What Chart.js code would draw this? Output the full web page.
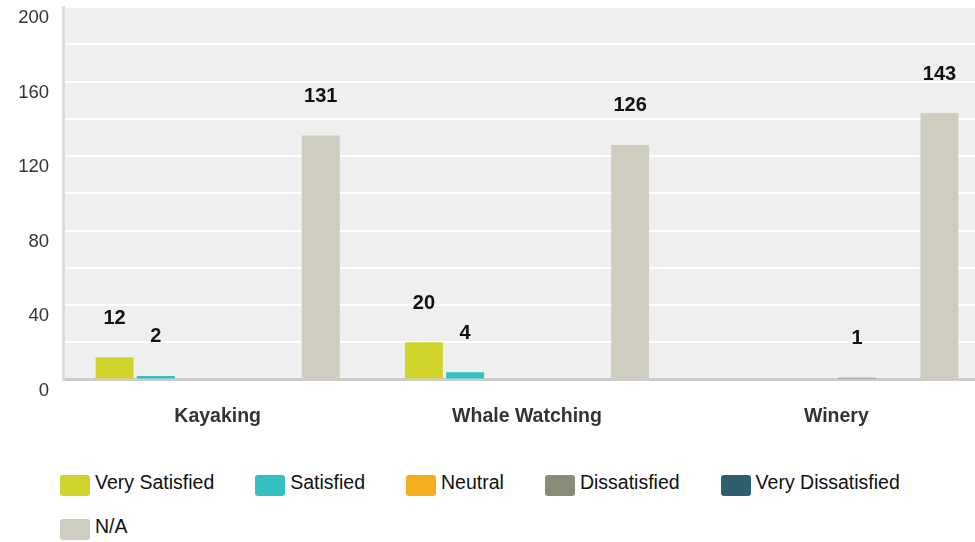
<!DOCTYPE html>
<html>
<head>
<meta charset="utf-8">
<script src="https://cdn.jsdelivr.net/npm/chart.js@4"></script>
<style>
  html, body { margin: 0; padding: 0; background: #fff; overflow: hidden; }
  body { width: 975px; height: 542px; position: relative; font-family: 'Liberation Sans', Arial, sans-serif; }
  #chartBox { position: absolute; left: 0; top: -18px; width: 991px; height: 471px; }
  #legend {
    position: absolute; left: 60px; top: 471px; width: 915px;
    display: flex; flex-wrap: wrap; row-gap: 19px;
  }
  .legend-item { display: flex; align-items: flex-start; margin-right: 41px; }
  .legend-box { width: 30px; height: 21px; border-radius: 3px; margin-top: 4px; margin-right: 5px; }
  .legend-text { font-size: 19.5px; line-height: 22px; color: #111; white-space: nowrap; }
</style>
</head>
<body>
<div id="chartBox"><canvas id="surveyChart"></canvas></div>
<div id="legend"></div>
<script>
// Chart data
const categories = ['Kayaking', 'Whale Watching', 'Winery'];
const seriesNames = ['Very Satisfied', 'Satisfied', 'Neutral', 'Dissatisfied', 'Very Dissatisfied', 'N/A'];
const verySatisfied = [12, 20, 0];
const satisfied = [2, 4, 0];
const neutral = [0, 0, 0];
const dissatisfied = [0, 0, 1];
const veryDissatisfied = [0, 0, 0];
const notApplicable = [131, 126, 143];
const yTicks = [0, 40, 80, 120, 160, 200];

const seriesValues = [verySatisfied, satisfied, neutral, dissatisfied, veryDissatisfied, notApplicable];
const seriesColors = ['#d0d42a', '#35bfbf', '#f5ae22', '#8a8a78', '#2f5f6c', '#cfcdbf'];

const fontFamily = "'Liberation Sans', Arial, sans-serif";

// Grey plot background
const plotBackground = {
  id: 'plotBackground',
  beforeDraw(chart) {
    const { ctx, chartArea: a } = chart;
    ctx.save();
    ctx.fillStyle = '#efefef';
    ctx.fillRect(a.left, a.top, a.right - a.left, a.bottom - a.top);
    ctx.restore();
  }
};

// Value labels floating above the bars
const valueLabels = {
  id: 'valueLabels',
  afterDatasetsDraw(chart) {
    const { ctx } = chart;
    ctx.save();
    ctx.font = 'bold 20px ' + fontFamily;
    ctx.fillStyle = '#111';
    ctx.textAlign = 'center';
    ctx.textBaseline = 'middle';
    chart.data.datasets.forEach((ds, i) => {
      chart.getDatasetMeta(i).data.forEach((bar, j) => {
        const v = ds.data[j];
        if (!v) return;
        ctx.fillText(String(v), bar.x, bar.y - 39);
      });
    });
    ctx.restore();
  }
};

new Chart(document.getElementById('surveyChart'), {
  type: 'bar',
  data: {
    labels: categories,
    datasets: seriesNames.map((name, i) => ({
      label: name,
      data: seriesValues[i],
      backgroundColor: seriesColors[i],
      categoryPercentage: 0.8,
      barPercentage: 0.92
    }))
  },
  options: {
    responsive: true,
    maintainAspectRatio: false,
    animation: false,
    layout: { padding: { top: 0, right: 0, bottom: 0, left: 0 } },
    scales: {
      x: {
        z: 1,
        grid: { display: false, drawTicks: false },
        border: { color: '#cccccc', width: 3 },
        ticks: {
          color: '#333',
          padding: 25,
          font: { family: fontFamily, size: 19.5, weight: 'bold' }
        }
      },
      y: {
        min: 0,
        max: 200,
        afterFit(scale) { scale.width = 63; },
        grid: { color: '#ffffff', lineWidth: 2, drawTicks: false },
        border: { color: '#dddddd', width: 3 },
        ticks: {
          stepSize: 20,
          padding: 14,
          labelOffset: 11,
          color: '#333',
          font: { family: fontFamily, size: 18.5 },
          callback: value => yTicks.includes(value) ? value : ''
        }
      }
    },
    plugins: {
      legend: { display: false },
      tooltip: { enabled: false }
    }
  },
  plugins: [plotBackground, valueLabels]
});

// HTML legend
const legendEl = document.getElementById('legend');
seriesNames.forEach((name, i) => {
  const item = document.createElement('div');
  item.className = 'legend-item';
  item.innerHTML = '<div class="legend-box" style="background:' + seriesColors[i] + '"></div>' +
    '<div class="legend-text">' + name + '</div>';
  legendEl.appendChild(item);
});
</script>
</body>
</html>
